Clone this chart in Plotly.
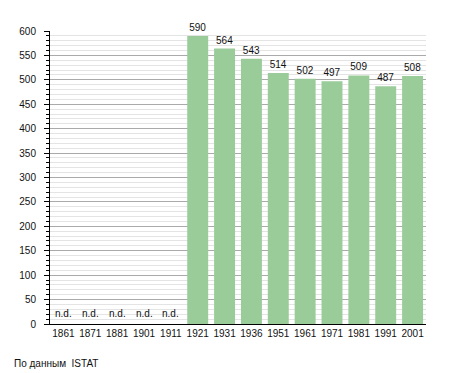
import plotly.graph_objects as go

years = ["1861", "1871", "1881", "1901", "1911", "1921", "1931", "1936",
         "1951", "1961", "1971", "1981", "1991", "2001"]
population = [None, None, None, None, None, 590, 564, 543, 514, 502, 497, 509, 487, 508]
nd_label = "n.d."
source_note = "По данным  ISTAT"

bar_text = [str(v) if v is not None else "" for v in population]
nd_index = [i for i, v in enumerate(population) if v is None]

fig = go.Figure()
fig.add_trace(go.Bar(
    x=years, y=population, text=bar_text, textposition="outside",
    marker=dict(color="#99cc99", line=dict(width=0)),
    textfont=dict(size=10, color="#111111"), cliponaxis=False,
    hoverinfo="x+y",
))

# category axis: annotations are placed by category index
annotations = [dict(
    x=i, y=0, xref="x", yref="y", text=nd_label, showarrow=False,
    yanchor="bottom", yshift=3, font=dict(size=10, color="#111111"),
) for i in nd_index]
annotations.append(dict(
    text=source_note, xref="paper", yref="paper", x=-0.101, y=-0.11,
    xanchor="left", yanchor="top", showarrow=False, font=dict(size=10),
))

# page body has an 8px margin, so the figure is sized to fit inside the window
fig.update_layout(
    width=447, height=365,
    margin=dict(l=42, r=29, t=23, b=49, autoexpand=False),
    paper_bgcolor="white", plot_bgcolor="white",
    font=dict(family="Liberation Sans, Arial, sans-serif", size=10, color="#111111"),
    showlegend=False, bargap=0.22,
    xaxis=dict(
        type="category", categoryorder="array", categoryarray=years,
        range=[-0.5, len(years) - 0.5],
        showline=True, linecolor="black", linewidth=1,
        ticks="", showgrid=False, tickfont=dict(size=10), tickangle=0,
        automargin=False,
    ),
    yaxis=dict(
        range=[0, 600], tickmode="linear", tick0=0, dtick=50,
        showline=True, linecolor="black", linewidth=1,
        ticks="outside", ticklen=5, tickcolor="black",
        showgrid=True, gridcolor="#aaaaaa", gridwidth=1,
        zeroline=False, tickfont=dict(size=10), automargin=False,
        ticklabelstandoff=6,
        minor=dict(dtick=10, ticks="outside", ticklen=3, tickcolor="black",
                   showgrid=True, gridcolor="#e4e4e4", gridwidth=1),
    ),
    annotations=annotations,
)

fig.write_html("out.html")
